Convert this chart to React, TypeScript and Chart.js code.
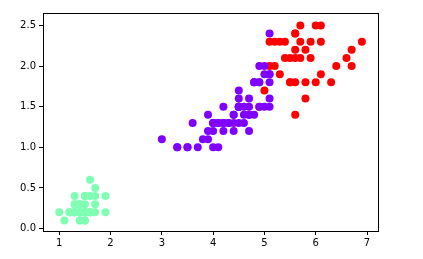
import React, { useEffect, useRef } from "react";
import { Chart, registerables } from "chart.js";

Chart.register(...registerables);

// Iris petal length / width, and k-means cluster labels
const petalLength = [
  1.4,1.4,1.3,1.5,1.4,1.7,1.4,1.5,1.4,1.5,1.5,1.6,1.4,1.1,1.2,1.5,1.3,1.4,1.7,1.5,1.7,1.5,1.0,1.7,1.9,1.6,1.6,1.5,1.4,1.6,1.6,1.5,1.5,1.4,1.5,1.2,1.3,1.4,1.3,1.5,1.3,1.3,1.3,1.6,1.9,1.4,1.6,1.4,1.5,1.4,
  4.7,4.5,4.9,4.0,4.6,4.5,4.7,3.3,4.6,3.9,3.5,4.2,4.0,4.7,3.6,4.4,4.5,4.1,4.5,3.9,4.8,4.0,4.9,4.7,4.3,4.4,4.8,5.0,4.5,3.5,3.8,3.7,3.9,5.1,4.5,4.5,4.7,4.4,4.1,4.0,4.4,4.6,4.0,3.3,4.2,4.2,4.2,4.3,3.0,4.1,
  6.0,5.1,5.9,5.6,5.8,6.6,4.5,6.3,5.8,6.1,5.1,5.3,5.5,5.0,5.1,5.3,5.5,6.7,6.9,5.0,5.7,4.9,6.7,4.9,5.7,6.0,4.8,4.9,5.6,5.8,6.1,6.4,5.6,5.1,5.6,6.1,5.6,5.5,4.8,5.4,5.6,5.1,5.1,5.9,5.7,5.2,5.0,5.2,5.4,5.1,
];
const petalWidth = [
  0.2,0.2,0.2,0.2,0.2,0.4,0.3,0.2,0.2,0.1,0.2,0.2,0.1,0.1,0.2,0.4,0.4,0.3,0.3,0.3,0.2,0.4,0.2,0.5,0.2,0.2,0.4,0.2,0.2,0.2,0.2,0.4,0.1,0.2,0.2,0.2,0.2,0.1,0.2,0.2,0.3,0.3,0.2,0.6,0.4,0.3,0.2,0.2,0.2,0.2,
  1.4,1.5,1.5,1.3,1.5,1.3,1.6,1.0,1.3,1.4,1.0,1.5,1.0,1.4,1.3,1.4,1.5,1.0,1.5,1.1,1.8,1.3,1.5,1.2,1.3,1.4,1.4,1.7,1.5,1.0,1.1,1.0,1.2,1.6,1.5,1.6,1.5,1.3,1.3,1.3,1.2,1.4,1.2,1.0,1.3,1.2,1.3,1.3,1.1,1.3,
  2.5,1.9,2.1,1.8,2.2,2.1,1.7,1.8,1.8,2.5,2.0,1.9,2.1,2.0,2.4,2.3,1.8,2.2,2.3,1.5,2.3,2.0,2.0,1.8,2.1,1.8,1.8,1.8,2.1,1.6,1.9,2.0,2.2,1.5,1.4,2.3,2.4,1.8,1.8,2.1,2.4,2.3,1.9,2.3,2.5,2.3,1.9,2.0,2.3,1.8,
];
const clusterLabels = [
  1,1,1,1,1,1,1,1,1,1,1,1,1,1,1,1,1,1,1,1,1,1,1,1,1,1,1,1,1,1,1,1,1,1,1,1,1,1,1,1,1,1,1,1,1,1,1,1,1,1,
  0,0,2,0,0,0,0,0,0,0,0,0,0,0,0,0,0,0,0,0,0,0,0,0,0,0,0,2,0,0,0,0,0,0,0,0,0,0,0,0,0,0,0,0,0,0,0,0,0,0,
  2,0,2,2,2,2,0,2,2,2,2,2,2,0,0,2,2,2,2,0,2,0,2,0,2,2,0,0,2,2,2,2,2,0,2,2,2,2,0,2,2,2,0,2,2,2,0,2,2,0,
];
const clusterColors = ["#8000ff", "#80ffb4", "#ff0000"];
const xTicks = [1, 2, 3, 4, 5, 6, 7];
const yTicks = [0.0, 0.5, 1.0, 1.5, 2.0, 2.5];

const framePlugin = {
  id: "frame",
  afterDraw(chart: any) {
    const { ctx, chartArea } = chart;
    ctx.save();
    ctx.strokeStyle = "#000";
    ctx.lineWidth = 1;
    ctx.strokeRect(
      Math.round(chartArea.left) + 0.5,
      Math.round(chartArea.top) + 0.5,
      Math.round(chartArea.right - chartArea.left),
      Math.round(chartArea.bottom - chartArea.top)
    );
    ctx.restore();
  },
};

export default function App() {
  const ref = useRef<HTMLCanvasElement | null>(null);
  useEffect(() => {
    document.body.style.margin = "0";
    const points = petalLength.map((x, i) => ({ x, y: petalWidth[i] }));
    const colors = clusterLabels.map((l) => clusterColors[l]);
    const font = { family: "DejaVu Sans", size: 10 };
    const chart = new Chart(ref.current as HTMLCanvasElement, {
      type: "scatter",
      data: {
        datasets: [
          {
            data: points,
            pointBackgroundColor: colors,
            pointBorderWidth: 0,
            pointRadius: 4,
            pointHoverRadius: 4,
          },
        ],
      },
      options: {
        animation: false,
        responsive: false,
        events: [],
        layout: { padding: { top: 13, right: 45, left: 0, bottom: 0 } },
        plugins: { legend: { display: false }, tooltip: { enabled: false } },
        scales: {
          x: {
            type: "linear",
            min: 0.683,
            max: 7.214,
            afterBuildTicks: (s: any) => {
              s.ticks = xTicks.map((v) => ({ value: v }));
            },
            afterFit: (s: any) => {
              s.height = 28;
            },
            ticks: { color: "#000", font, padding: 2, maxRotation: 0, callback: (v: any) => String(v) },
            grid: { display: true, drawOnChartArea: false, drawTicks: true, tickLength: 4, color: "#000" },
            border: { display: true, color: "#000" },
          },
          y: {
            type: "linear",
            min: -0.03,
            max: 2.653,
            afterBuildTicks: (s: any) => {
              s.ticks = yTicks.map((v) => ({ value: v }));
            },
            afterFit: (s: any) => {
              s.width = 43;
            },
            ticks: { color: "#000", font, padding: 3, callback: (v: any) => Number(v).toFixed(1) },
            grid: { display: true, drawOnChartArea: false, drawTicks: true, tickLength: 4, color: "#000" },
            border: { display: true, color: "#000" },
          },
        },
      },
      plugins: [framePlugin],
    } as any);
    return () => chart.destroy();
  }, []);
  return (
    <div style={{ width: 423, height: 259 }}>
      <canvas ref={ref} width={423} height={259} style={{ display: "block" }} />
    </div>
  );
}
